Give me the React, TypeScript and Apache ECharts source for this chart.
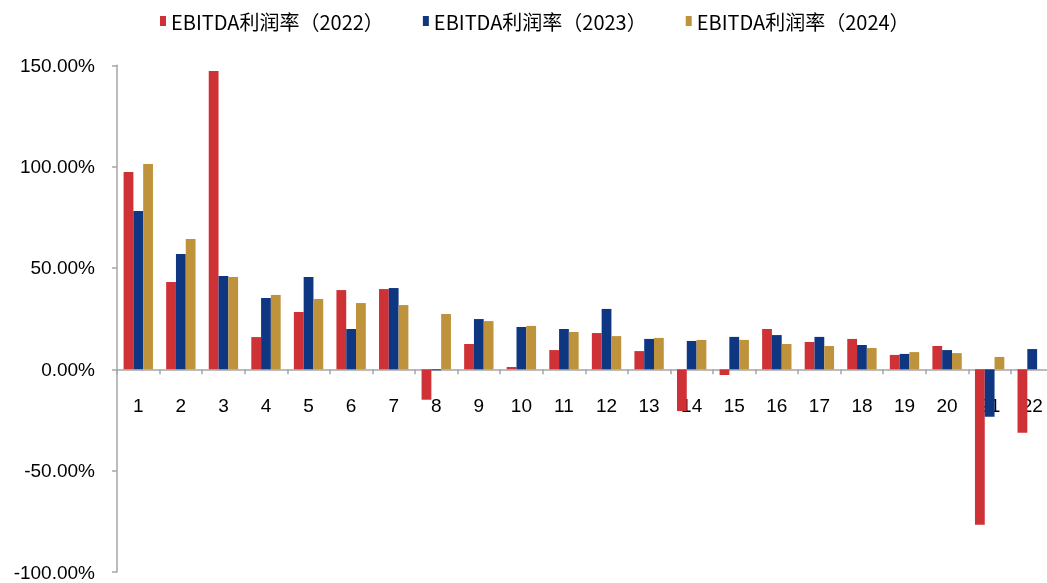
import React, { useEffect, useRef } from "react";
import * as echarts from "echarts";

const categories = ["1","2","3","4","5","6","7","8","9","10","11","12","13","14","15","16","17","18","19","20","21","22"];
const seriesNames = ["EBITDA利润率（2022）", "EBITDA利润率（2023）", "EBITDA利润率（2024）"];
const r2022 = [97.4, 43.1, 147.2, 15.9, 28.3, 39.1, 39.6, -15.0, 12.5, 1.1, 9.5, 17.9, 9.0, -20.6, -2.8, 19.9, 13.5, 15.0, 7.1, 11.5, -76.7, -31.3];
const r2023 = [78.1, 56.9, 46.1, 35.2, 45.6, 19.9, 40.1, -0.5, 24.8, 20.9, 19.9, 29.8, 15.0, 14.0, 16.0, 16.9, 16.0, 12.0, 7.6, 9.5, -23.4, 10.0];
const r2024 = [101.3, 64.3, 45.6, 36.7, 34.7, 32.7, 31.7, 27.3, 23.8, 21.4, 18.4, 16.4, 15.5, 14.5, 14.5, 12.5, 11.5, 10.5, 8.5, 8.0, 6.1, 0];
const colors = ["#CE3236", "#0E3681", "#BF923C"];

const GRID_TOP = 65.3;
const GRID_H = 506.7;
const Y_MIN = -100;
const Y_MAX = 150;

export default function App() {
  const ref = useRef<HTMLDivElement>(null);
  useEffect(() => {
    if (!ref.current) return;
    const chart = echarts.init(ref.current, null, { renderer: "svg" });
    const data = [r2022, r2023, r2024];
    const zeroOffset = -GRID_H * (0 - Y_MIN) / (Y_MAX - Y_MIN);
    chart.setOption({
      animation: false,
      color: colors,
      legend: {
        left: 155,
        top: 6,
        itemWidth: 6,
        itemHeight: 10,
        itemGap: 39,
        icon: "rect",
        textStyle: { fontFamily: "Noto Sans CJK SC", fontSize: 20, color: "#000" },
        data: seriesNames,
      },
      grid: {
        left: 117,
        top: GRID_TOP,
        width: 936.5,
        height: GRID_H,
        containLabel: false,
        outerBoundsMode: "none",
      },
      xAxis: {
        type: "category",
        data: categories,
        position: "bottom",
        offset: zeroOffset,
        axisLine: { onZero: false, lineStyle: { color: "#a6a6a6", width: 1.5 } },
        axisTick: { show: true, length: 5, lineStyle: { color: "#a6a6a6", width: 1.5 } },
        axisLabel: { fontFamily: "Liberation Sans", fontSize: 19, color: "#000", margin: 27, interval: 0 },
      },
      yAxis: {
        type: "value",
        min: Y_MIN,
        max: Y_MAX,
        interval: 50,
        splitLine: { show: false },
        axisLine: { show: true, lineStyle: { color: "#a6a6a6", width: 1.5 } },
        axisTick: { show: true, length: 5, lineStyle: { color: "#a6a6a6", width: 1.5 } },
        axisLabel: {
          fontFamily: "Liberation Sans",
          fontSize: 19,
          color: "#000",
          margin: 22,
          formatter: (v: number) => v.toFixed(2) + "%",
        },
      },
      series: seriesNames.map((name, i) => ({
        name,
        type: "bar",
        data: data[i],
        barGap: "0%",
        barCategoryGap: "31%",
        itemStyle: { color: colors[i] },
      })),
    });
    return () => chart.dispose();
  }, []);
  return <div ref={ref} style={{ position: "fixed", left: 0, top: 0, width: 1047, height: 583 }} />;
}
